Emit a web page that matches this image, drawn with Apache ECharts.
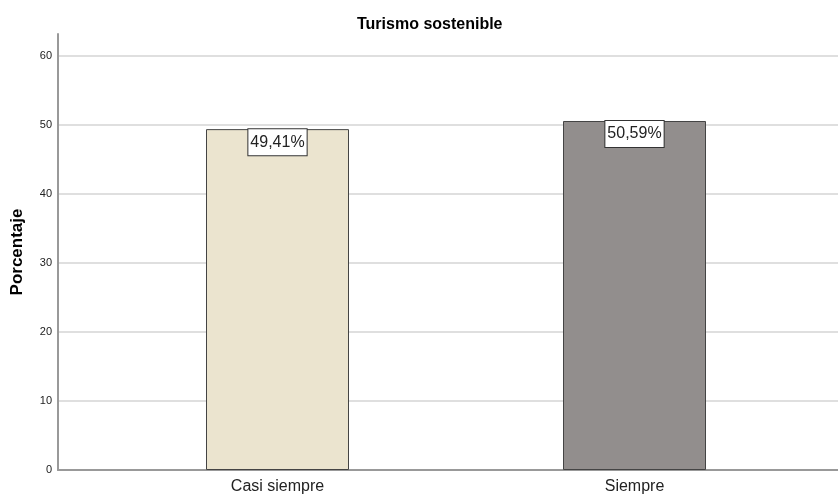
<!DOCTYPE html>
<html>
<head>
<meta charset="utf-8">
<script src="https://cdn.jsdelivr.net/npm/echarts@6/dist/echarts.min.js"></script>
<style>html,body{margin:0;padding:0;background:#fff;}#c{width:838px;height:496px;}</style>
</head>
<body>
<div id="c"></div>
<script>
const title = 'Turismo sostenible';
const yTitle = 'Porcentaje';
const categories = ['Casi siempre', 'Siempre'];
const values = [49.41, 50.59];
const barColors = ['#EBE4CF', '#928E8D'];
const yTicks = [0, 10, 20, 30, 40, 50, 60];

const chart = echarts.init(document.getElementById('c'), null, {renderer: 'canvas'});
const yMax = 63.2;
const fmt = v => v.toFixed(2).replace('.', ',') + '%';
const FF = 'Liberation Sans, Arial, sans-serif';
const gridColors = yTicks.map(() => '#d4d4d4').concat(['rgba(0,0,0,0)']);

chart.setOption({
  animation: false,
  title: {
    text: title, left: 352, top: 12,
    textStyle: {fontFamily: FF, fontWeight: 'bold', fontSize: 16, color: '#000'}
  },
  grid: [
    {left: 58, right: 0, top: 34, bottom: 26, containLabel: false},
    {left: 99, right: 25, top: 34, bottom: 26, containLabel: false}
  ],
  xAxis: [
    {type: 'category', gridIndex: 0, data: categories,
     axisLine: {show: true, lineStyle: {color: '#999', width: 2}},
     axisTick: {show: false}, axisLabel: {show: false}, splitLine: {show: false}},
    {type: 'category', gridIndex: 1, data: categories,
     axisLine: {show: false}, axisTick: {show: false},
     axisLabel: {show: true, margin: 9, fontFamily: FF, fontSize: 16, color: '#222'}}
  ],
  yAxis: [
    {type: 'value', gridIndex: 0, min: 0, max: yMax, interval: 10,
     axisLine: {show: true, lineStyle: {color: '#999', width: 2}},
     axisTick: {show: false},
     axisLabel: {show: true, margin: 6, fontFamily: FF, fontSize: 11, color: '#222',
       formatter: v => yTicks.indexOf(v) >= 0 ? String(v) : ''},
     splitLine: {show: true, lineStyle: {color: gridColors, width: 1.5}},
     name: yTitle, nameLocation: 'middle', nameGap: 32, nameRotate: 90,
     nameTextStyle: {fontFamily: FF, fontWeight: 'bold', fontSize: 17, color: '#000'}},
    {type: 'value', gridIndex: 1, min: 0, max: yMax, interval: 10, show: false}
  ],
  series: [{
    type: 'bar', xAxisIndex: 1, yAxisIndex: 1,
    barWidth: 143,
    data: values.map((v, i) => ({value: v, itemStyle: {color: barColors[i]}})),
    itemStyle: {borderColor: '#444', borderWidth: 1},
    label: {
      show: true, position: 'insideTop', distance: 0,
      formatter: p => fmt(p.value),
      fontFamily: FF, fontSize: 16, color: '#222',
      backgroundColor: '#fff', borderColor: '#333', borderWidth: 1,
      padding: [5, 2, 5, 2]
    }
  }]
});
</script>
</body>
</html>
